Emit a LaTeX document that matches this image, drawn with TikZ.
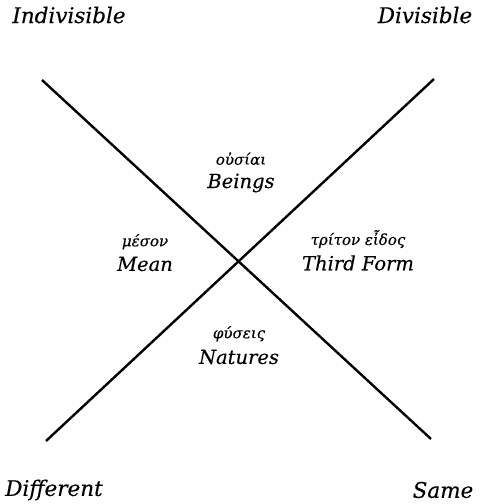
\documentclass[tikz,border=0pt]{standalone}
\usepackage{fontspec}
\setmainfont{DejaVu Serif}[ItalicFeatures={FakeBold=0.3}]
\usetikzlibrary{positioning}

\tikzset{
  corner/.style={font=\itshape\fontsize{21.5}{24}\selectfont, inner sep=0pt},
  latin/.style={font=\itshape\fontsize{19.5}{22}\selectfont, inner sep=0pt},
  greek/.style={font=\itshape\fontsize{15}{18}\selectfont, inner sep=0pt}
}

\begin{document}
\begin{tikzpicture}[x=1pt, y=1pt, line width=2.4pt]
  \useasboundingbox (0,0) rectangle (480,504);
  \coordinate (ul) at (42,424);
  \coordinate (ur) at (434,425);
  \coordinate (ll) at (46,63);
  \coordinate (lr) at (431,65);
  \draw (ul) -- (lr);
  \draw (ll) -- (ur);
  \node[corner] (indiv) at (69,489) {Indivisible};
  \node[corner] (div) at (425,489) {Divisible};
  \node[corner] (diff) at (54,14) {Different};
  \node[corner] (same) at (443,14) {Same};
  \node[latin] (beings) at (241,321) {Beings};
  \node[greek, above=6pt of beings] (ousiai) {οὐσίαι};
  \node[latin] (mean) at (145,240) {Mean};
  \node[greek, above=5pt of mean] (meson) {μέσον};
  \node[latin] (third) at (358,241) {Third Form};
  \node[greek, above=5pt of third] (triton) {τρίτον εἶδος};
  \node[latin] (natures) at (239,147) {Natures};
  \node[greek, above=6pt of natures] (physeis) {φύσεις};
\end{tikzpicture}
\end{document}
